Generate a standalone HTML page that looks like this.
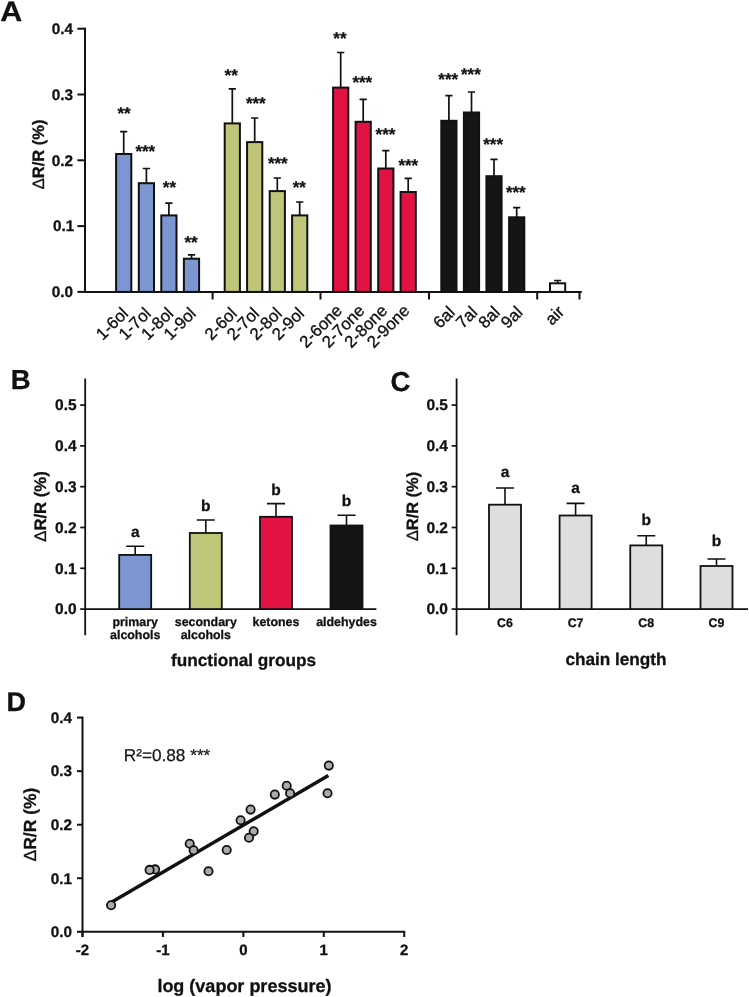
<!DOCTYPE html>
<html><head><meta charset="utf-8"><style>
html,body{margin:0;padding:0;background:#fff;width:749px;height:997px;overflow:hidden}
svg{display:block;will-change:transform;text-rendering:geometricPrecision}
text{font-family:"Liberation Sans",sans-serif}
</style></head><body>
<svg width="749" height="997" viewBox="0 0 749 997">
<rect width="749" height="997" fill="#fff"/>
<text stroke="#111" stroke-width="0.3" x="0.3" y="21"  font-weight="bold" font-size="28" textLength="22" lengthAdjust="spacingAndGlyphs" fill="#111">A</text>
<path d="M85.0,27.7 V291.9" stroke="#111" stroke-width="2" fill="none"/>
<path d="M77.4,291.90 H85.0" stroke="#111" stroke-width="2"/>
<text stroke="#111" stroke-width="0.3" x="73" y="297.20"  font-weight="bold" font-size="15.3" text-anchor="end" fill="#111">0.0</text>
<path d="M77.4,226.10 H85.0" stroke="#111" stroke-width="2"/>
<text stroke="#111" stroke-width="0.3" x="74.2" y="231.40"  font-weight="bold" font-size="15.3" text-anchor="end" fill="#111">0.1</text>
<path d="M77.4,160.30 H85.0" stroke="#111" stroke-width="2"/>
<text stroke="#111" stroke-width="0.3" x="73" y="165.60"  font-weight="bold" font-size="15.3" text-anchor="end" fill="#111">0.2</text>
<path d="M77.4,94.50 H85.0" stroke="#111" stroke-width="2"/>
<text stroke="#111" stroke-width="0.3" x="73" y="99.80"  font-weight="bold" font-size="15.3" text-anchor="end" fill="#111">0.3</text>
<path d="M77.4,28.70 H85.0" stroke="#111" stroke-width="2"/>
<text stroke="#111" stroke-width="0.3" x="73" y="34.00"  font-weight="bold" font-size="15.3" text-anchor="end" fill="#111">0.4</text>
<path d="M84.0,291.9 H581.8" stroke="#111" stroke-width="2"/>
<path d="M212.6,291.9 V299.5" stroke="#111" stroke-width="2"/>
<path d="M320.5,291.9 V299.5" stroke="#111" stroke-width="2"/>
<path d="M429,291.9 V299.5" stroke="#111" stroke-width="2"/>
<path d="M537.2,291.9 V299.5" stroke="#111" stroke-width="2"/>
<path d="M579.5,291.9 V299.5" stroke="#111" stroke-width="2"/>
<path d="M123.7,154.00 V131.70 M120.10,131.70 H127.30" stroke="#111" stroke-width="1.7" fill="none"/>
<rect x="116.10" y="154.00" width="15.2" height="137.90" fill="#7b96d1" stroke="#111" stroke-width="2"/>
<text stroke="#111" stroke-width="0.3" x="117.40" y="119.40"  font-weight="bold" font-size="17" fill="#111">**</text>
<text transform="translate(129.20,314.50) rotate(-45)"  font-size="16.8" text-anchor="end" fill="#111" stroke="#111" stroke-width="0.35">1-6ol</text>
<path d="M146.4,183.20 V168.50 M142.80,168.50 H150.00" stroke="#111" stroke-width="1.7" fill="none"/>
<rect x="138.80" y="183.20" width="15.2" height="108.70" fill="#7b96d1" stroke="#111" stroke-width="2"/>
<text stroke="#111" stroke-width="0.3" x="135.40" y="156.60"  font-weight="bold" font-size="17" fill="#111">***</text>
<text transform="translate(151.90,314.50) rotate(-45)"  font-size="16.8" text-anchor="end" fill="#111" stroke="#111" stroke-width="0.35">1-7ol</text>
<path d="M168.9,215.40 V203.10 M165.30,203.10 H172.50" stroke="#111" stroke-width="1.7" fill="none"/>
<rect x="161.30" y="215.40" width="15.2" height="76.50" fill="#7b96d1" stroke="#111" stroke-width="2"/>
<text stroke="#111" stroke-width="0.3" x="162.80" y="193.10"  font-weight="bold" font-size="17" fill="#111">**</text>
<text transform="translate(174.40,314.50) rotate(-45)"  font-size="16.8" text-anchor="end" fill="#111" stroke="#111" stroke-width="0.35">1-8ol</text>
<path d="M191.5,258.70 V254.80 M187.90,254.80 H195.10" stroke="#111" stroke-width="1.7" fill="none"/>
<rect x="183.90" y="258.70" width="15.2" height="33.20" fill="#7b96d1" stroke="#111" stroke-width="2"/>
<text stroke="#111" stroke-width="0.3" x="184.40" y="247.80"  font-weight="bold" font-size="17" fill="#111">**</text>
<text transform="translate(197.00,314.50) rotate(-45)"  font-size="16.8" text-anchor="end" fill="#111" stroke="#111" stroke-width="0.35">1-9ol</text>
<path d="M232.3,123.40 V88.80 M228.70,88.80 H235.90" stroke="#111" stroke-width="1.7" fill="none"/>
<rect x="224.70" y="123.40" width="15.2" height="168.50" fill="#c0c678" stroke="#111" stroke-width="2"/>
<text stroke="#111" stroke-width="0.3" x="224.60" y="81.00"  font-weight="bold" font-size="17" fill="#111">**</text>
<text transform="translate(237.80,314.50) rotate(-45)"  font-size="16.8" text-anchor="end" fill="#111" stroke="#111" stroke-width="0.35">2-6ol</text>
<path d="M254.7,142.10 V118.00 M251.10,118.00 H258.30" stroke="#111" stroke-width="1.7" fill="none"/>
<rect x="247.10" y="142.10" width="15.2" height="149.80" fill="#c0c678" stroke="#111" stroke-width="2"/>
<text stroke="#111" stroke-width="0.3" x="245.90" y="108.90"  font-weight="bold" font-size="17" fill="#111">***</text>
<text transform="translate(260.20,314.50) rotate(-45)"  font-size="16.8" text-anchor="end" fill="#111" stroke="#111" stroke-width="0.35">2-7ol</text>
<path d="M277.3,191.10 V178.00 M273.70,178.00 H280.90" stroke="#111" stroke-width="1.7" fill="none"/>
<rect x="269.70" y="191.10" width="15.2" height="100.80" fill="#c0c678" stroke="#111" stroke-width="2"/>
<text stroke="#111" stroke-width="0.3" x="267.90" y="168.70"  font-weight="bold" font-size="17" fill="#111">***</text>
<text transform="translate(282.80,314.50) rotate(-45)"  font-size="16.8" text-anchor="end" fill="#111" stroke="#111" stroke-width="0.35">2-8ol</text>
<path d="M299.7,215.40 V202.00 M296.10,202.00 H303.30" stroke="#111" stroke-width="1.7" fill="none"/>
<rect x="292.10" y="215.40" width="15.2" height="76.50" fill="#c0c678" stroke="#111" stroke-width="2"/>
<text stroke="#111" stroke-width="0.3" x="292.70" y="192.90"  font-weight="bold" font-size="17" fill="#111">**</text>
<text transform="translate(305.20,314.50) rotate(-45)"  font-size="16.8" text-anchor="end" fill="#111" stroke="#111" stroke-width="0.35">2-9ol</text>
<path d="M340.7,87.60 V52.50 M337.10,52.50 H344.30" stroke="#111" stroke-width="1.7" fill="none"/>
<rect x="333.10" y="87.60" width="15.2" height="204.30" fill="#e31245" stroke="#111" stroke-width="2"/>
<text stroke="#111" stroke-width="0.3" x="333.30" y="44.10"  font-weight="bold" font-size="17" fill="#111">**</text>
<text transform="translate(343.20,311.70) rotate(-45)"  font-size="16.8" text-anchor="end" fill="#111" stroke="#111" stroke-width="0.35">2-6one</text>
<path d="M363.2,121.80 V99.30 M359.60,99.30 H366.80" stroke="#111" stroke-width="1.7" fill="none"/>
<rect x="355.60" y="121.80" width="15.2" height="170.10" fill="#e31245" stroke="#111" stroke-width="2"/>
<text stroke="#111" stroke-width="0.3" x="352.40" y="87.70"  font-weight="bold" font-size="17" fill="#111">***</text>
<text transform="translate(365.70,311.70) rotate(-45)"  font-size="16.8" text-anchor="end" fill="#111" stroke="#111" stroke-width="0.35">2-7one</text>
<path d="M385.8,168.50 V150.60 M382.20,150.60 H389.40" stroke="#111" stroke-width="1.7" fill="none"/>
<rect x="378.20" y="168.50" width="15.2" height="123.40" fill="#e31245" stroke="#111" stroke-width="2"/>
<text stroke="#111" stroke-width="0.3" x="375.60" y="139.70"  font-weight="bold" font-size="17" fill="#111">***</text>
<text transform="translate(388.30,311.70) rotate(-45)"  font-size="16.8" text-anchor="end" fill="#111" stroke="#111" stroke-width="0.35">2-8one</text>
<path d="M408.2,192.00 V178.30 M404.60,178.30 H411.80" stroke="#111" stroke-width="1.7" fill="none"/>
<rect x="400.60" y="192.00" width="15.2" height="99.90" fill="#e31245" stroke="#111" stroke-width="2"/>
<text stroke="#111" stroke-width="0.3" x="398.40" y="171.30"  font-weight="bold" font-size="17" fill="#111">***</text>
<text transform="translate(410.70,311.70) rotate(-45)"  font-size="16.8" text-anchor="end" fill="#111" stroke="#111" stroke-width="0.35">2-9one</text>
<path d="M448.9,120.80 V95.70 M445.30,95.70 H452.50" stroke="#111" stroke-width="1.7" fill="none"/>
<rect x="441.30" y="120.80" width="15.2" height="171.10" fill="#141615" stroke="#111" stroke-width="2"/>
<text stroke="#111" stroke-width="0.3" x="438.30" y="84.90"  font-weight="bold" font-size="17" fill="#111">***</text>
<text transform="translate(455.90,313.40) rotate(-45)"  font-size="16.8" text-anchor="end" fill="#111" stroke="#111" stroke-width="0.35">6al</text>
<path d="M471.5,112.50 V92.00 M467.90,92.00 H475.10" stroke="#111" stroke-width="1.7" fill="none"/>
<rect x="463.90" y="112.50" width="15.2" height="179.40" fill="#141615" stroke="#111" stroke-width="2"/>
<text stroke="#111" stroke-width="0.3" x="461.00" y="80.10"  font-weight="bold" font-size="17" fill="#111">***</text>
<text transform="translate(478.50,313.40) rotate(-45)"  font-size="16.8" text-anchor="end" fill="#111" stroke="#111" stroke-width="0.35">7al</text>
<path d="M494.0,176.20 V159.30 M490.40,159.30 H497.60" stroke="#111" stroke-width="1.7" fill="none"/>
<rect x="486.40" y="176.20" width="15.2" height="115.70" fill="#141615" stroke="#111" stroke-width="2"/>
<text stroke="#111" stroke-width="0.3" x="483.20" y="149.50"  font-weight="bold" font-size="17" fill="#111">***</text>
<text transform="translate(501.00,313.40) rotate(-45)"  font-size="16.8" text-anchor="end" fill="#111" stroke="#111" stroke-width="0.35">8al</text>
<path d="M516.7,217.30 V207.70 M513.10,207.70 H520.30" stroke="#111" stroke-width="1.7" fill="none"/>
<rect x="509.10" y="217.30" width="15.2" height="74.60" fill="#141615" stroke="#111" stroke-width="2"/>
<text stroke="#111" stroke-width="0.3" x="505.90" y="197.90"  font-weight="bold" font-size="17" fill="#111">***</text>
<text transform="translate(523.70,313.40) rotate(-45)"  font-size="16.8" text-anchor="end" fill="#111" stroke="#111" stroke-width="0.35">9al</text>
<path d="M557.6,283.30 V280.50 M554.00,280.50 H561.20" stroke="#111" stroke-width="1.7" fill="none"/>
<rect x="550.00" y="283.30" width="15.2" height="8.60" fill="#ffffff" stroke="#111" stroke-width="2"/>
<text transform="translate(565.10,312.70) rotate(-45)"  font-size="16.8" text-anchor="end" fill="#111" stroke="#111" stroke-width="0.35">air</text>
<text stroke="#111" stroke-width="0.3" transform="translate(44.1,154.4) rotate(-90)"  font-weight="bold" font-size="16.5" text-anchor="middle" fill="#111"><tspan font-weight="normal">&#916;</tspan>R/R (%)</text>
<text stroke="#111" stroke-width="0.3" x="10.8" y="388.5"  font-weight="bold" font-size="27.5" fill="#111">B</text>
<path d="M85.2,378.4 V635.3" stroke="#111" stroke-width="1.8" fill="none"/>
<path d="M80.2,609.10 H85.2" stroke="#111" stroke-width="1.7"/>
<text stroke="#111" stroke-width="0.3" x="76.6" y="614.40"  font-weight="bold" font-size="15.5" text-anchor="end" fill="#111">0.0</text>
<path d="M80.2,568.30 H85.2" stroke="#111" stroke-width="1.7"/>
<text stroke="#111" stroke-width="0.3" x="76.6" y="573.60"  font-weight="bold" font-size="15.5" text-anchor="end" fill="#111">0.1</text>
<path d="M80.2,527.50 H85.2" stroke="#111" stroke-width="1.7"/>
<text stroke="#111" stroke-width="0.3" x="76.6" y="532.80"  font-weight="bold" font-size="15.5" text-anchor="end" fill="#111">0.2</text>
<path d="M80.2,486.70 H85.2" stroke="#111" stroke-width="1.7"/>
<text stroke="#111" stroke-width="0.3" x="76.6" y="492.00"  font-weight="bold" font-size="15.5" text-anchor="end" fill="#111">0.3</text>
<path d="M80.2,445.90 H85.2" stroke="#111" stroke-width="1.7"/>
<text stroke="#111" stroke-width="0.3" x="76.6" y="451.20"  font-weight="bold" font-size="15.5" text-anchor="end" fill="#111">0.4</text>
<path d="M80.2,405.10 H85.2" stroke="#111" stroke-width="1.7"/>
<text stroke="#111" stroke-width="0.3" x="76.6" y="410.40"  font-weight="bold" font-size="15.5" text-anchor="end" fill="#111">0.5</text>
<path d="M85.2,609.1 H376.4" stroke="#111" stroke-width="1.6"/>
<path d="M135.2,554.50 V546.30 M126.20,546.30 H144.20" stroke="#111" stroke-width="1.6" fill="none"/>
<rect x="119.20" y="554.90" width="32.0" height="54.20" fill="#7b96d1" stroke="#111" stroke-width="1.8"/>
<text stroke="#111" stroke-width="0.3" x="135.20" y="537.30"  font-weight="bold" font-size="15.5" text-anchor="middle" fill="#111">a</text>
<path d="M205.8,532.60 V520.00 M196.80,520.00 H214.80" stroke="#111" stroke-width="1.6" fill="none"/>
<rect x="189.80" y="533.00" width="32.0" height="76.10" fill="#c0c678" stroke="#111" stroke-width="1.8"/>
<text stroke="#111" stroke-width="0.3" x="205.80" y="511.10"  font-weight="bold" font-size="15.5" text-anchor="middle" fill="#111">b</text>
<path d="M276.0,516.40 V503.60 M267.00,503.60 H285.00" stroke="#111" stroke-width="1.6" fill="none"/>
<rect x="260.00" y="516.80" width="32.0" height="92.30" fill="#e31245" stroke="#111" stroke-width="1.8"/>
<text stroke="#111" stroke-width="0.3" x="276.00" y="494.70"  font-weight="bold" font-size="15.5" text-anchor="middle" fill="#111">b</text>
<path d="M346.5,525.10 V515.20 M337.50,515.20 H355.50" stroke="#111" stroke-width="1.6" fill="none"/>
<rect x="330.50" y="525.50" width="32.0" height="83.60" fill="#141615" stroke="#111" stroke-width="1.8"/>
<text stroke="#111" stroke-width="0.3" x="346.50" y="505.90"  font-weight="bold" font-size="15.5" text-anchor="middle" fill="#111">b</text>
<text stroke="#111" stroke-width="0.3" x="135.20" y="625.60"  font-weight="bold" font-size="12.4" text-anchor="middle" fill="#111">primary</text>
<text stroke="#111" stroke-width="0.3" x="135.20" y="638.70"  font-weight="bold" font-size="12.4" text-anchor="middle" fill="#111">alcohols</text>
<text stroke="#111" stroke-width="0.3" x="205.80" y="625.60"  font-weight="bold" font-size="12.4" text-anchor="middle" fill="#111">secondary</text>
<text stroke="#111" stroke-width="0.3" x="205.80" y="638.70"  font-weight="bold" font-size="12.4" text-anchor="middle" fill="#111">alcohols</text>
<text stroke="#111" stroke-width="0.3" x="276.00" y="625.60"  font-weight="bold" font-size="12.4" text-anchor="middle" fill="#111">ketones</text>
<text stroke="#111" stroke-width="0.3" x="346.50" y="625.60"  font-weight="bold" font-size="12.4" text-anchor="middle" fill="#111">aldehydes</text>
<text stroke="#111" stroke-width="0.3" x="243.5" y="665.6"  font-weight="bold" font-size="17.2" text-anchor="middle" fill="#111">functional groups</text>
<text stroke="#111" stroke-width="0.3" transform="translate(46.3,506.5) rotate(-90)"  font-weight="bold" font-size="16.7" text-anchor="middle" fill="#111"><tspan font-weight="normal">&#916;</tspan>R/R (%)</text>
<text stroke="#111" stroke-width="0.3" x="390.4" y="391.1"  font-weight="bold" font-size="27.5" fill="#111">C</text>
<path d="M456.59999999999997,378.4 V635.3" stroke="#111" stroke-width="1.8" fill="none"/>
<path d="M451.59999999999997,609.10 H456.59999999999997" stroke="#111" stroke-width="1.7"/>
<text stroke="#111" stroke-width="0.3" x="448.0" y="614.40"  font-weight="bold" font-size="15.5" text-anchor="end" fill="#111">0.0</text>
<path d="M451.59999999999997,568.30 H456.59999999999997" stroke="#111" stroke-width="1.7"/>
<text stroke="#111" stroke-width="0.3" x="448.0" y="573.60"  font-weight="bold" font-size="15.5" text-anchor="end" fill="#111">0.1</text>
<path d="M451.59999999999997,527.50 H456.59999999999997" stroke="#111" stroke-width="1.7"/>
<text stroke="#111" stroke-width="0.3" x="448.0" y="532.80"  font-weight="bold" font-size="15.5" text-anchor="end" fill="#111">0.2</text>
<path d="M451.59999999999997,486.70 H456.59999999999997" stroke="#111" stroke-width="1.7"/>
<text stroke="#111" stroke-width="0.3" x="448.0" y="492.00"  font-weight="bold" font-size="15.5" text-anchor="end" fill="#111">0.3</text>
<path d="M451.59999999999997,445.90 H456.59999999999997" stroke="#111" stroke-width="1.7"/>
<text stroke="#111" stroke-width="0.3" x="448.0" y="451.20"  font-weight="bold" font-size="15.5" text-anchor="end" fill="#111">0.4</text>
<path d="M451.59999999999997,405.10 H456.59999999999997" stroke="#111" stroke-width="1.7"/>
<text stroke="#111" stroke-width="0.3" x="448.0" y="410.40"  font-weight="bold" font-size="15.5" text-anchor="end" fill="#111">0.5</text>
<path d="M456.59999999999997,609.1 H748" stroke="#111" stroke-width="1.6"/>
<path d="M505.0,504.30 V488.00 M496.00,488.00 H514.00" stroke="#111" stroke-width="1.6" fill="none"/>
<rect x="489.00" y="504.70" width="32.0" height="104.40" fill="#dcdfdd" stroke="#111" stroke-width="1.8"/>
<text stroke="#111" stroke-width="0.3" x="505.00" y="476.80"  font-weight="bold" font-size="15.5" text-anchor="middle" fill="#111">a</text>
<path d="M575.6,515.10 V503.40 M566.60,503.40 H584.60" stroke="#111" stroke-width="1.6" fill="none"/>
<rect x="559.60" y="515.50" width="32.0" height="93.60" fill="#dcdfdd" stroke="#111" stroke-width="1.8"/>
<text stroke="#111" stroke-width="0.3" x="575.60" y="492.70"  font-weight="bold" font-size="15.5" text-anchor="middle" fill="#111">a</text>
<path d="M646.25,545.00 V535.70 M637.25,535.70 H655.25" stroke="#111" stroke-width="1.6" fill="none"/>
<rect x="630.25" y="545.40" width="32.0" height="63.70" fill="#dcdfdd" stroke="#111" stroke-width="1.8"/>
<text stroke="#111" stroke-width="0.3" x="646.25" y="525.40"  font-weight="bold" font-size="15.5" text-anchor="middle" fill="#111">b</text>
<path d="M716.5,565.60 V559.00 M707.50,559.00 H725.50" stroke="#111" stroke-width="1.6" fill="none"/>
<rect x="700.50" y="566.00" width="32.0" height="43.10" fill="#dcdfdd" stroke="#111" stroke-width="1.8"/>
<text stroke="#111" stroke-width="0.3" x="716.50" y="546.40"  font-weight="bold" font-size="15.5" text-anchor="middle" fill="#111">b</text>
<text stroke="#111" stroke-width="0.3" x="505.00" y="626.70"  font-weight="bold" font-size="12.4" text-anchor="middle" fill="#111">C6</text>
<text stroke="#111" stroke-width="0.3" x="575.60" y="626.70"  font-weight="bold" font-size="12.4" text-anchor="middle" fill="#111">C7</text>
<text stroke="#111" stroke-width="0.3" x="646.25" y="626.70"  font-weight="bold" font-size="12.4" text-anchor="middle" fill="#111">C8</text>
<text stroke="#111" stroke-width="0.3" x="716.50" y="626.70"  font-weight="bold" font-size="12.4" text-anchor="middle" fill="#111">C9</text>
<text stroke="#111" stroke-width="0.3" x="616" y="665.3"  font-weight="bold" font-size="17.2" text-anchor="middle" fill="#111">chain length</text>
<text stroke="#111" stroke-width="0.3" transform="translate(418.1,506.5) rotate(-90)"  font-weight="bold" font-size="16.4" text-anchor="middle" fill="#111"><tspan font-weight="normal">&#916;</tspan>R/R (%)</text>
<text stroke="#111" stroke-width="0.3" x="6.6" y="711"  font-weight="bold" font-size="27" fill="#111">D</text>
<path d="M82.5,716.6 V937" stroke="#111" stroke-width="2" fill="none"/>
<path d="M77,931.80 H82.5" stroke="#111" stroke-width="2"/>
<text stroke="#111" stroke-width="0.3" x="72" y="937.10"  font-weight="bold" font-size="15.3" text-anchor="end" fill="#111">0.0</text>
<path d="M77,878.25 H82.5" stroke="#111" stroke-width="2"/>
<text stroke="#111" stroke-width="0.3" x="72" y="883.55"  font-weight="bold" font-size="15.3" text-anchor="end" fill="#111">0.1</text>
<path d="M77,824.70 H82.5" stroke="#111" stroke-width="2"/>
<text stroke="#111" stroke-width="0.3" x="72" y="830.00"  font-weight="bold" font-size="15.3" text-anchor="end" fill="#111">0.2</text>
<path d="M77,771.15 H82.5" stroke="#111" stroke-width="2"/>
<text stroke="#111" stroke-width="0.3" x="72" y="776.45"  font-weight="bold" font-size="15.3" text-anchor="end" fill="#111">0.3</text>
<path d="M77,717.60 H82.5" stroke="#111" stroke-width="2"/>
<text stroke="#111" stroke-width="0.3" x="72" y="722.90"  font-weight="bold" font-size="15.3" text-anchor="end" fill="#111">0.4</text>
<path d="M81.5,931.8 H405.2" stroke="#111" stroke-width="2"/>
<path d="M82.50,931.8 V937" stroke="#111" stroke-width="2"/>
<text stroke="#111" stroke-width="0.3" x="82.50" y="955.3"  font-weight="bold" font-size="15" text-anchor="middle" fill="#111">-2</text>
<path d="M162.93,931.8 V937" stroke="#111" stroke-width="2"/>
<text stroke="#111" stroke-width="0.3" x="162.93" y="955.3"  font-weight="bold" font-size="15" text-anchor="middle" fill="#111">-1</text>
<path d="M243.36,931.8 V937" stroke="#111" stroke-width="2"/>
<text stroke="#111" stroke-width="0.3" x="243.36" y="955.3"  font-weight="bold" font-size="15" text-anchor="middle" fill="#111">0</text>
<path d="M323.79,931.8 V937" stroke="#111" stroke-width="2"/>
<text stroke="#111" stroke-width="0.3" x="323.79" y="955.3"  font-weight="bold" font-size="15" text-anchor="middle" fill="#111">1</text>
<path d="M404.22,931.8 V937" stroke="#111" stroke-width="2"/>
<text stroke="#111" stroke-width="0.3" x="404.22" y="955.3"  font-weight="bold" font-size="15" text-anchor="middle" fill="#111">2</text>
<path d="M111.0,902.4 L328.4,775.5" stroke="#111" stroke-width="3.5" fill="none"/>
<circle cx="111.1" cy="905.3" r="4.15" fill="#aaaaaa" stroke="#111" stroke-width="1.8"/>
<circle cx="155.1" cy="869.4" r="4.15" fill="#aaaaaa" stroke="#111" stroke-width="1.8"/>
<circle cx="149.6" cy="869.9" r="4.15" fill="#aaaaaa" stroke="#111" stroke-width="1.8"/>
<circle cx="189.7" cy="843.8" r="4.15" fill="#aaaaaa" stroke="#111" stroke-width="1.8"/>
<circle cx="193.6" cy="850.2" r="4.15" fill="#aaaaaa" stroke="#111" stroke-width="1.8"/>
<circle cx="208.5" cy="871.2" r="4.15" fill="#aaaaaa" stroke="#111" stroke-width="1.8"/>
<circle cx="226.7" cy="850.0" r="4.15" fill="#aaaaaa" stroke="#111" stroke-width="1.8"/>
<circle cx="240.6" cy="820.2" r="4.15" fill="#aaaaaa" stroke="#111" stroke-width="1.8"/>
<circle cx="250.6" cy="809.6" r="4.15" fill="#aaaaaa" stroke="#111" stroke-width="1.8"/>
<circle cx="253.7" cy="831.3" r="4.15" fill="#aaaaaa" stroke="#111" stroke-width="1.8"/>
<circle cx="249.0" cy="837.8" r="4.15" fill="#aaaaaa" stroke="#111" stroke-width="1.8"/>
<circle cx="274.8" cy="794.6" r="4.15" fill="#aaaaaa" stroke="#111" stroke-width="1.8"/>
<circle cx="286.7" cy="785.8" r="4.15" fill="#aaaaaa" stroke="#111" stroke-width="1.8"/>
<circle cx="290.1" cy="793.3" r="4.15" fill="#aaaaaa" stroke="#111" stroke-width="1.8"/>
<circle cx="328.8" cy="765.6" r="4.15" fill="#aaaaaa" stroke="#111" stroke-width="1.8"/>
<circle cx="327.5" cy="793.3" r="4.15" fill="#aaaaaa" stroke="#111" stroke-width="1.8"/>
<text x="123.8" y="761.4"  font-size="17.2" fill="#161616" stroke="#161616" stroke-width="0.25">R&#178;=0.88 ***</text>
<text stroke="#111" stroke-width="0.3" x="244.4" y="991.6"  font-weight="bold" font-size="18" text-anchor="middle" fill="#111">log (vapor pressure)</text>
<text stroke="#111" stroke-width="0.3" transform="translate(36.4,824.6) rotate(-90)"  font-weight="bold" font-size="17.5" text-anchor="middle" fill="#111"><tspan font-weight="normal">&#916;</tspan>R/R (%)</text>
</svg></body></html>
